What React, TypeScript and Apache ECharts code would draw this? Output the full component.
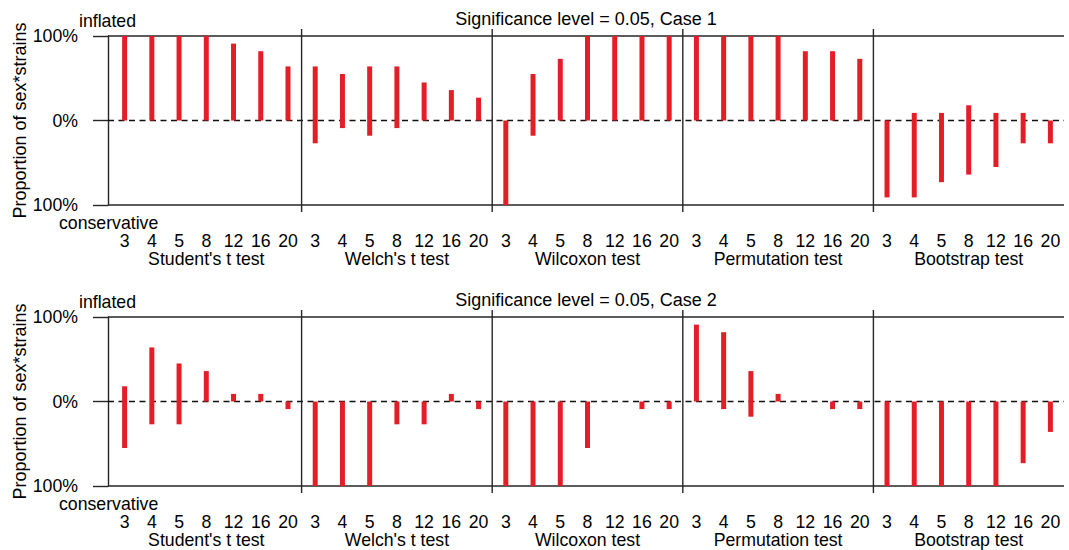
import React, { useEffect, useRef } from 'react';
import * as echarts from 'echarts';

const sizes = ['3', '4', '5', '8', '12', '16', '20'];
const tests = ["Student's t test", "Welch's t test", 'Wilcoxon test', 'Permutation test', 'Bootstrap test'];
const yTicks = [-100, 0, 100];
const panelTitles = ['Significance level = 0.05, Case 1', 'Significance level = 0.05, Case 2'];
const yAxisTitle = 'Proportion of sex*strains';
const upperLabel = 'inflated';
const lowerLabel = 'conservative';

// Percent of sex*strains; one row of 7 sample sizes per test.
const case1Inflated = [
  [100, 100, 100, 100, 91, 82, 64],
  [64, 55, 64, 64, 45, 36, 27],
  [0, 55, 73, 100, 100, 100, 100],
  [100, 100, 100, 100, 82, 82, 73],
  [0, 9, 9, 18, 9, 9, 0],
];
const case1Conservative = [
  [0, 0, 0, 0, 0, 0, 0],
  [27, 9, 18, 9, 0, 0, 0],
  [100, 18, 0, 0, 0, 0, 0],
  [0, 0, 0, 0, 0, 0, 0],
  [91, 91, 73, 64, 55, 27, 27],
];
const case2Inflated = [
  [18, 64, 45, 36, 9, 9, 0],
  [0, 0, 0, 0, 0, 9, 0],
  [0, 0, 0, 0, 0, 0, 0],
  [91, 82, 36, 9, 0, 0, 0],
  [0, 0, 0, 0, 0, 0, 0],
];
const case2Conservative = [
  [55, 27, 27, 0, 0, 0, 9],
  [100, 100, 100, 27, 27, 0, 9],
  [100, 100, 100, 55, 0, 9, 9],
  [0, 9, 18, 0, 0, 9, 9],
  [100, 100, 100, 100, 100, 73, 36],
];

const panels = [
  { inflated: case1Inflated, conservative: case1Conservative },
  { inflated: case2Inflated, conservative: case2Conservative },
];

const RED = '#E41E26';
const LINE = '#262626';
const FONT = "'Liberation Sans', Arial, sans-serif";
const FS = 17.7;
const yMin = Math.min(...yTicks);
const yMax = Math.max(...yTicks);

const categories = tests.flatMap(() => sizes);

function barData(p: number) {
  const out: number[][] = [];
  panels[p].inflated.forEach((row, g) => {
    row.forEach((hi, k) => {
      out.push([g * sizes.length + k, -panels[p].conservative[g][k], hi]);
    });
  });
  return out;
}

const renderBar = (params: any, api: any) => {
  const i = api.value(0);
  const lo = api.value(1);
  const hi = api.value(2);
  if (lo === hi) return null;
  const top = api.coord([i, hi]);
  const bot = api.coord([i, lo]);
  const w = 5;
  return {
    type: 'rect',
    shape: { x: top[0] - w / 2, y: top[1], width: w, height: bot[1] - top[1] },
    style: { fill: RED },
  };
};

const renderFrame = (params: any, api: any) => {
  const cs = params.coordSys;
  const yTop = api.coord([0, yMax])[1];
  const yZero = api.coord([0, 0])[1];
  const yBot = api.coord([0, yMin])[1];
  const band = api.size([1, 0])[0];
  const x0 = cs.x - 3;
  const x1 = cs.x + cs.width;
  const ls = { stroke: LINE, lineWidth: 1.4 };
  const children: any[] = [
    { type: 'line', shape: { x1: x0, y1: yTop, x2: x1, y2: yTop }, style: ls },
    { type: 'line', shape: { x1: x0, y1: yBot, x2: x1, y2: yBot }, style: ls },
    { type: 'line', shape: { x1: x0, y1: yZero, x2: x1, y2: yZero }, style: { stroke: '#111', lineWidth: 1.3, lineDash: [6, 4.5] } },
  ];
  for (let g = 1; g < tests.length; g++) {
    const x = api.coord([g * sizes.length, 0])[0] - band / 2;
    children.push({ type: 'line', shape: { x1: x, y1: yTop - 7, x2: x, y2: yBot + 7 }, style: ls });
  }
  return { type: 'group', children };
};

export default function App() {
  const ref = useRef<HTMLDivElement>(null);
  useEffect(() => {
    if (!ref.current) return;
    const chart = echarts.init(ref.current, null, { renderer: 'svg' });
    const grids = [
      { left: 111, right: 5, top: 36, height: 169, outerBoundsMode: 'none', containLabel: false },
      { left: 111, right: 5, top: 317, height: 169, outerBoundsMode: 'none', containLabel: false },
    ];
    const labelStyle = { color: '#000', fontSize: FS, fontFamily: FONT };
    const xAxes: any[] = [];
    const yAxes: any[] = [];
    const series: any[] = [];
    grids.forEach((_, p) => {
      xAxes.push({
        type: 'category', gridIndex: p, data: categories, position: 'bottom',
        axisLine: { show: false }, axisTick: { show: false }, splitLine: { show: false },
        axisLabel: { ...labelStyle, interval: 0, margin: 27 },
      });
      xAxes.push({
        type: 'category', gridIndex: p, data: tests, position: 'bottom',
        axisLine: { show: false }, axisTick: { show: false }, splitLine: { show: false },
        axisLabel: { ...labelStyle, interval: 0, margin: 45 },
      });
      yAxes.push({
        type: 'value', gridIndex: p, min: yMin, max: yMax, interval: 100, offset: 3,
        axisLine: { show: true, lineStyle: { color: LINE, width: 1.4 } },
        axisTick: { show: true, length: 15, lineStyle: { color: LINE, width: 1.4 } },
        splitLine: { show: false },
        axisLabel: { ...labelStyle, margin: 30, formatter: (v: number) => Math.abs(v) + '%' },
        name: yAxisTitle, nameLocation: 'middle', nameGap: 79, nameMoveOverlap: false,
        nameTextStyle: { ...labelStyle, fontSize: 18 },
      });
      series.push({
        type: 'custom', xAxisIndex: p * 2, yAxisIndex: p, clip: false, silent: true,
        renderItem: renderFrame, data: [[0, 0]], z: 1,
      });
      series.push({
        type: 'custom', xAxisIndex: p * 2, yAxisIndex: p, clip: false,
        renderItem: renderBar, data: barData(p), encode: { x: 0, y: [1, 2] }, z: 2,
      });
    });
    const textStyle = (text: string, x: number, y: number, align: string, size = FS) => ({
      type: 'text', x, y,
      style: { text, fill: '#000', font: `${size}px ${FONT}`, align, verticalAlign: 'middle' },
    });
    chart.setOption({
      animation: false,
      backgroundColor: '#fff',
      grid: grids,
      xAxis: xAxes,
      yAxis: yAxes,
      series,
      graphic: [
        textStyle(panelTitles[0], 586, 19, 'center', 18),
        textStyle(panelTitles[1], 586, 300, 'center', 18),
        textStyle(upperLabel, 79, 21, 'left'),
        textStyle(lowerLabel, 59, 223, 'left'),
        textStyle(upperLabel, 79, 302, 'left'),
        textStyle(lowerLabel, 59, 504, 'left'),
      ],
    });
    return () => chart.dispose();
  }, []);
  return <div ref={ref} style={{ position: 'fixed', left: 0, top: 0, width: 1069, height: 550 }} />;
}
